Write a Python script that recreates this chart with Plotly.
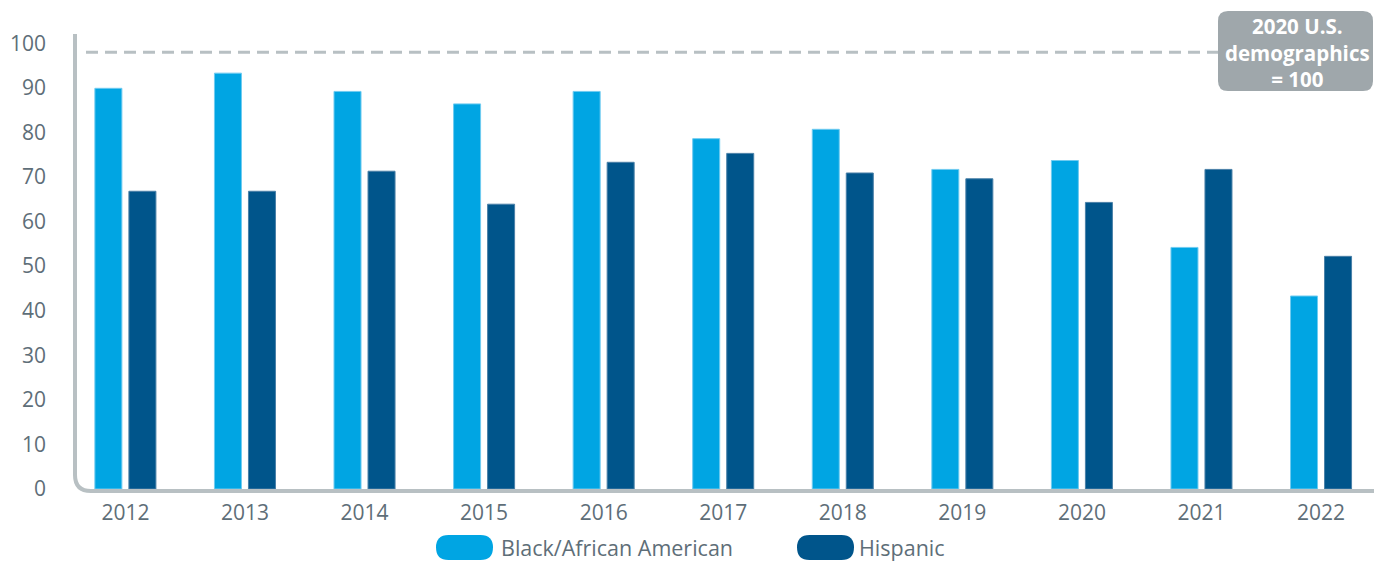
import plotly.graph_objects as go

# ---------------- data ----------------
years = ["2012", "2013", "2014", "2015", "2016", "2017", "2018", "2019", "2020", "2021", "2022"]
black = [89.9, 93.3, 89.2, 86.4, 89.2, 78.6, 80.7, 71.7, 73.7, 54.2, 43.3]
hispanic = [66.8, 66.8, 71.3, 63.9, 73.3, 75.3, 70.9, 69.6, 64.3, 71.7, 52.2]
series_names = ["Black/African American", "Hispanic"]
ref_value = 98
ref_label = "2020 U.S.<br>demographics<br>= 100"
y_ticks = [0, 10, 20, 30, 40, 50, 60, 70, 80, 90, 100]

# ---------------- style ----------------
C_LIGHT = "#00A5E3"
C_DARK = "#00558B"
AXIS_C = "#B8C0C3"
TEXT_C = "#5E6E78"
BOX_C = "#9FA7AB"
FONT = "Open Sans"

WIDTH, HEIGHT = 1374, 561
L, R, T, B = 64, 0, 21, 72
PW = WIDTH - L - R
PH = HEIGHT - T - B
BOTTOM = HEIGHT - B


def px(x):
    return (x - L) / PW


def py(y):
    return (BOTTOM - y) / PH


def rrect(x0, y0, x1, y1, r):
    # rounded rectangle in paper coords from pixel coords
    return (f"M {px(x0 + r)},{py(y0)} L {px(x1 - r)},{py(y0)} "
            f"Q {px(x1)},{py(y0)} {px(x1)},{py(y0 + r)} "
            f"L {px(x1)},{py(y1 - r)} Q {px(x1)},{py(y1)} {px(x1 - r)},{py(y1)} "
            f"L {px(x0 + r)},{py(y1)} Q {px(x0)},{py(y1)} {px(x0)},{py(y1 - r)} "
            f"L {px(x0)},{py(y0 + r)} Q {px(x0)},{py(y0)} {px(x0 + r)},{py(y0)} Z")


fig = go.Figure()
fig.add_trace(go.Bar(x=years, y=black, name=series_names[0],
                     marker=dict(color=C_LIGHT, line=dict(color="#6FCBF0", width=1)),
                     showlegend=False, hoverinfo="skip"))
fig.add_trace(go.Bar(x=years, y=hispanic, name=series_names[1],
                     marker=dict(color=C_DARK, line=dict(color="#4A80A8", width=1)),
                     showlegend=False, hoverinfo="skip"))

shapes = []
# L-shaped axis with rounded corner
r = 16
shapes.append(dict(type="path", xref="paper", yref="paper",
                   path=(f"M {px(75)},{py(34)} L {px(75)},{py(491 - r)} "
                         f"Q {px(75)},{py(491)} {px(75 + r)},{py(491)} L {px(1380)},{py(491)}"),
                   line=dict(color=AXIS_C, width=4), layer="above"))
# reference dashed line
shapes.append(dict(type="line", xref="paper", yref="y", x0=px(86), x1=px(1220),
                   y0=ref_value, y1=ref_value,
                   line=dict(color=AXIS_C, width=3, dash="12px,7px")))
# reference box
shapes.append(dict(type="path", xref="paper", yref="paper",
                   path=rrect(1218, 11, 1373, 91, 10),
                   fillcolor=BOX_C, line=dict(width=0)))
# legend pills
shapes.append(dict(type="path", xref="paper", yref="paper",
                   path=rrect(436, 535, 493, 560, 12.5),
                   fillcolor=C_LIGHT, line=dict(width=0)))
shapes.append(dict(type="path", xref="paper", yref="paper",
                   path=rrect(797, 535, 854, 560, 12.5),
                   fillcolor=C_DARK, line=dict(width=0)))

annotations = [
    dict(xref="paper", yref="paper", x=px(1297), y=py(53), xanchor="center", yanchor="middle",
         text=f"<b>{ref_label}</b>", showarrow=False,
         font=dict(family=FONT, size=20.5, color="white")),
    dict(xref="paper", yref="paper", x=px(499), y=py(547), xanchor="left", yanchor="middle",
         text=series_names[0], showarrow=False,
         font=dict(family=FONT, size=21.5, color=TEXT_C)),
    dict(xref="paper", yref="paper", x=px(857), y=py(547), xanchor="left", yanchor="middle",
         text=series_names[1], showarrow=False,
         font=dict(family=FONT, size=21.5, color=TEXT_C)),
]

fig.update_layout(
    width=WIDTH, height=HEIGHT,
    margin=dict(l=L, r=R, t=T, b=B, autoexpand=False),
    paper_bgcolor="white", plot_bgcolor="white",
    barmode="group", bargap=0.431, bargroupgap=0.206,
    font=dict(family=FONT, size=21, color=TEXT_C),
    shapes=shapes, annotations=annotations,
    showlegend=False, hovermode=False,
    xaxis=dict(type="category", range=[-0.5135, 10.443], showgrid=False, zeroline=False,
               showline=False, ticks="", tickfont=dict(size=21, color=TEXT_C),
               ticklabelstandoff=9, fixedrange=True),
    yaxis=dict(range=[0, 105], tickvals=y_ticks, showgrid=False, zeroline=False,
               showline=False, ticks="", tickfont=dict(size=21, color=TEXT_C),
               ticklabelstandoff=17, fixedrange=True),
)

fig.write_html("out.html", config={"displayModeBar": False},
               post_script="document.body.style.margin='0';document.body.style.overflow='hidden';")
